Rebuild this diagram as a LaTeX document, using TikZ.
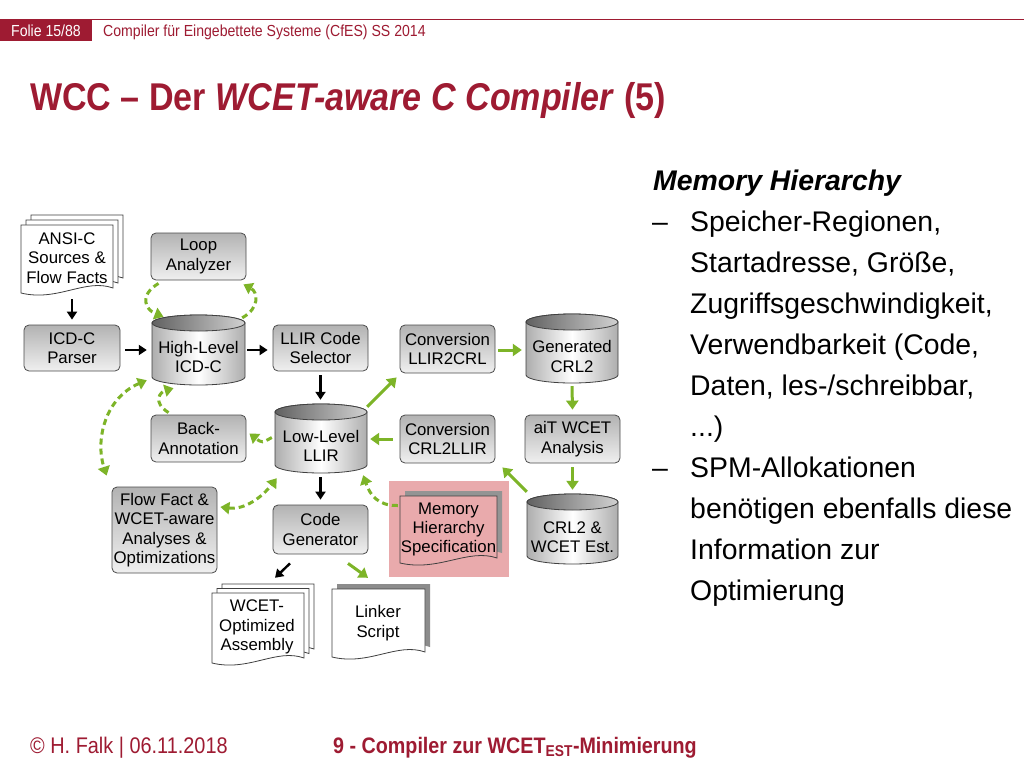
\documentclass[tikz,border=0pt]{standalone}
\usepackage{fontspec}
\setmainfont{Liberation Sans}
\newfontfamily\condf[FakeStretch=0.88]{Liberation Sans}
\usetikzlibrary{arrows.meta}
\definecolor{tured}{RGB}{158,27,50}
\definecolor{grn}{RGB}{125,180,40}
\definecolor{pinkbg}{RGB}{233,170,172}
\newcommand\dia{\fontsize{16.8}{19.4}\selectfont}
\newcommand\bodyf{\fontsize{28.4}{41}\selectfont}
\newcommand\docshape[5]{%
  \path[#1] (#2,#3) -- (#4,#3) -- (#4,{#5-5}) .. controls ({#4-0.3*(#4-#2)},{#5-15}) and ({#2+0.4*(#4-#2)},{#5+9}) .. (#2,#5) -- cycle;}
\newcommand\drawcyl[4]{%
  \pgfmathsetmacro\cxl{#1-#3/2}\pgfmathsetmacro\cxr{#1+#3/2}%
  \pgfmathsetmacro\cyt{#2-#4/2+8}\pgfmathsetmacro\cyb{#2+#4/2-8}%
  \path[left color=black!32, right color=black!32, middle color=white, draw=black!75, line width=0.8pt]
    (\cxl,\cyt) -- (\cxl,\cyb) arc[start angle=180, end angle=0, x radius=#3/2, y radius=8]
    -- (\cxr,\cyt) arc[start angle=0, end angle=-180, x radius=#3/2, y radius=8] -- cycle;
  \path[left color=black!62, right color=black!18, draw=black!75, line width=0.8pt]
    (#1,\cyt) ellipse[x radius=#3/2, y radius=8];}
\begin{document}
\begin{tikzpicture}[x=1pt,y=-1pt,
  box/.style={draw=black!70, line width=0.8pt, rounded corners=5pt, top color=black!30, bottom color=black!6, align=center, font=\dia, inner sep=0pt},
  anc/.style={inner sep=0pt, minimum width=#1},
  dtxt/.style={font=\dia, align=center, inner sep=0pt},
  docst/.style={draw=black!75, line width=0.8pt, fill=white},
  blk/.style={draw=black, line width=2.4pt, -{Triangle[length=8pt,width=10pt]}},
  garr/.style={draw=grn, line width=3pt, -{Triangle[length=9pt,width=12pt]}},
  gdash/.style={garr, dash pattern=on 6pt off 4pt},
  gdd/.style={gdash, {Triangle[length=9pt,width=12pt]}-{Triangle[length=9pt,width=12pt]}}]
\useasboundingbox (0,0) rectangle (1024,768);
\fill[white] (0,0) rectangle (1024,768);
% header
\fill[tured] (0,19) rectangle (92,41);
\draw[tured, line width=1.2pt] (0,19.5) -- (1024,19.5);
\node[text=white, font=\condf\fontsize{16}{18}\selectfont, anchor=base] (folie) at (46,36.5) {Folie 15/88};
\node[text=tured, font=\condf\fontsize{16}{18}\selectfont, anchor=base west, inner sep=0pt] (course) at (103,36.5) {Compiler für Eingebettete Systeme (CfES) SS 2014};
\node[text=tured, font=\condf\bfseries\fontsize{38.7}{42}\selectfont, anchor=base west, inner sep=0pt] (title) at (30,110) {WCC – Der \textit{WCET-aware C Compiler} (5)};
% footer
\node[text=tured, font=\condf\fontsize{22.6}{25}\selectfont, anchor=base west, inner sep=0pt] (foot1) at (30,753) {© H. Falk | 06.11.2018};
\node[text=tured, font=\condf\bfseries\fontsize{22.4}{25}\selectfont, anchor=base west, inner sep=0pt] (foot2) at (333,753) {9 - Compiler zur WCET\textsubscript{EST}-Minimierung};
% right text
\node[font=\bfseries\itshape\bodyf, anchor=base west, inner sep=0pt] (mh) at (653,190) {Memory Hierarchy};
\node[font=\bodyf, anchor=base west, inner sep=0pt] (d1) at (652,231) {–};
\node[font=\bodyf, anchor=base west, inner sep=0pt] (d2) at (652,477) {–};
\node[font=\bodyf, anchor=base west, inner sep=0pt] (r1) at (690,231) {Speicher-Regionen,};
\node[font=\bodyf, anchor=base west, inner sep=0pt] (r2) at (690,272) {Startadresse, Größe,};
\node[font=\bodyf, anchor=base west, inner sep=0pt] (r3) at (690,313) {Zugriffsgeschwindigkeit,};
\node[font=\bodyf, anchor=base west, inner sep=0pt] (r4) at (690,354) {Verwendbarkeit (Code,};
\node[font=\bodyf, anchor=base west, inner sep=0pt] (r5) at (690,395) {Daten, les-/schreibbar,};
\node[font=\bodyf, anchor=base west, inner sep=0pt] (r6) at (690,436) {...)};
\node[font=\bodyf, anchor=base west, inner sep=0pt] (r7) at (690,477) {SPM-Allokationen};
\node[font=\bodyf, anchor=base west, inner sep=0pt] (r8) at (690,518) {benötigen ebenfalls diese};
\node[font=\bodyf, anchor=base west, inner sep=0pt] (r9) at (690,559) {Information zur};
\node[font=\bodyf, anchor=base west, inner sep=0pt] (r10) at (690,600) {Optimierung};
% pink highlight
\fill[pinkbg] (389,481) rectangle (509,577);
% documents
\docshape{docst}{31}{215}{123}{283}
\docshape{docst}{26}{220}{118}{288}
\docshape{docst}{21}{225}{113}{293}
\node[dtxt, minimum width=92, minimum height=68] (ansi) at (67,259) {};
\node[dtxt] (ansitxt) at (67,258) {ANSI-C\\Sources \&\\Flow Facts};
\docshape{docst}{222}{584}{314}{654}
\docshape{docst}{217}{588.5}{309}{658.5}
\docshape{docst}{212}{593}{304}{663}
\node[dtxt, minimum width=92, minimum height=70] (asm) at (258,628) {};
\node[dtxt] (asmtxt) at (257,627) {WCET-\\Optimized\\Assembly};
\docshape{fill=black!45}{337}{584}{430}{652}
\docshape{docst}{332}{589}{425}{657}
\node[dtxt, minimum width=93, minimum height=68] (linker) at (378.5,623) {};
\node[dtxt] (linktxt) at (378,623) {Linker\\Script};
\docshape{fill=black!42}{405}{491}{502}{558}
\docshape{docst, fill=pinkbg}{400}{496}{497}{563}
\node[dtxt, minimum width=97, minimum height=67] (mem) at (448.5,529.5) {Memory\\Hierarchy\\Specification};
% boxes
\node[box, minimum width=96, minimum height=46] (parser) at (72,348) {ICD-C\\Parser};
\node[box, minimum width=95, minimum height=47] (loop) at (198.5,256.5) {Loop\\Analyzer};
\node[box, minimum width=95, minimum height=46] (sel) at (320.5,348) {LLIR Code\\Selector};
\node[box, minimum width=95, minimum height=47] (back) at (198.5,438.5) {Back-\\Annotation};
\node[box, minimum width=95, minimum height=49] (cg) at (320.5,529.5) {Code\\Generator};
\node[box, minimum width=105, minimum height=86] (ff) at (164.5,530) {Flow Fact \&\\WCET-aware\\Analyses \&\\Optimizations};
\node[box, minimum width=95, minimum height=48] (l2c) at (447.5,349) {Conversion\\LLIR2CRL};
\node[box, minimum width=95, minimum height=48] (c2l) at (447.5,439) {Conversion\\CRL2LLIR};
\node[box, minimum width=95, minimum height=48] (ait) at (572.5,439) {aiT WCET\\Analysis};
% cylinders
\drawcyl{198.5}{350}{93}{70}
\node[anc=93, minimum height=70] (hl) at (198.5,350) {};
\node[dtxt] (hltxt) at (198.5,357) {High-Level\\ICD-C};
\drawcyl{321}{438.5}{92}{69}
\node[anc=92, minimum height=69] (llir) at (321,438.5) {};
\node[dtxt] (llirtxt) at (321,446) {Low-Level\\LLIR};
\drawcyl{572}{348.5}{92}{69}
\node[anc=92, minimum height=69] (gen) at (572,348.5) {};
\node[dtxt] (gentxt) at (572,356.5) {Generated\\CRL2};
\drawcyl{572.5}{529}{91}{70}
\node[anc=91, minimum height=70] (est) at (572.5,529) {};
\node[dtxt] (esttxt) at (572.5,537) {CRL2 \&\\WCET Est.};
% black arrows
\draw[blk] ([shift={(5,6)}]ansi.south) -- ([shift={(0,-5)}]parser.north);
\draw[blk] ([shift={(5,2)}]parser.east) -- ([shift={(-5,0)}]hl.west);
\draw[blk] ([shift={(2,0)}]hl.east) -- ([shift={(-5,2)}]sel.west);
\draw[blk] ([shift={(0,4)}]sel.south) -- ([shift={(-0.5,-4)}]llir.north);
\draw[blk] ([shift={(-0.5,4)}]llir.south) -- ([shift={(0,-5)}]cg.north);
\draw[blk] ([shift={(-30.5,9)}]cg.south) -- ([shift={(17,-15)}]asm.north);
% green arrows
\draw[garr] ([shift={(27.5,9)}]cg.south) -- ([shift={(-10.5,-11)}]linker.north);
\draw[garr] ([shift={(0,3)}]llir.north east) -- ([shift={(-3,4)}]l2c.south west);
\draw[garr] ([shift={(3,1)}]l2c.east) -- ([shift={(-4,1.5)}]gen.west);
\draw[garr] ([shift={(0,3)}]gen.south) -- ([shift={(0.5,-5)}]gen.south |- ait.north);
\draw[garr] ([shift={(0,4)}]ait.south) -- ([shift={(0,-4)}]est.north);
\draw[garr] ([shift={(0,-2)}]est.north west) -- ([shift={(7,4)}]c2l.south east);
\draw[garr] ([shift={(-7,0)}]c2l.west) -- ([shift={(3,0.5)}]llir.east);
% green dashed
\draw[gdash] ([shift={(-2,-24)}]mem.west) .. controls (378,506) and (370,495) .. ([shift={(-4,2)}]llir.south east);
\draw[gdash] ([shift={(-3,-1)}]llir.west) .. controls (262,443) .. ([shift={(3,-5)}]back.east);
\draw[gdash] ([shift={(-30,-2)}]back.north) .. controls (152,402) and (160,392) .. ([shift={(-25,3)}]hl.south);
\draw[gdash] ([shift={(-40,3)}]loop.south) .. controls (138,296) and (146,310) .. ([shift={(-35,2)}]hl.north);
\draw[gdash] ([shift={(-3,3)}]hl.north east) .. controls (260,308) and (258,292) .. ([shift={(-3,4)}]loop.south east);
\draw[gdd] ([shift={(-5,-5)}]hl.south west) .. controls (105,398) and (95,440) .. ([shift={(-5,-11)}]ff.north west);
\draw[gdd] ([shift={(3,-23)}]ff.east) .. controls (245,510) and (262,497) .. ([shift={(2,5)}]llir.south west);
\end{tikzpicture}
\end{document}
